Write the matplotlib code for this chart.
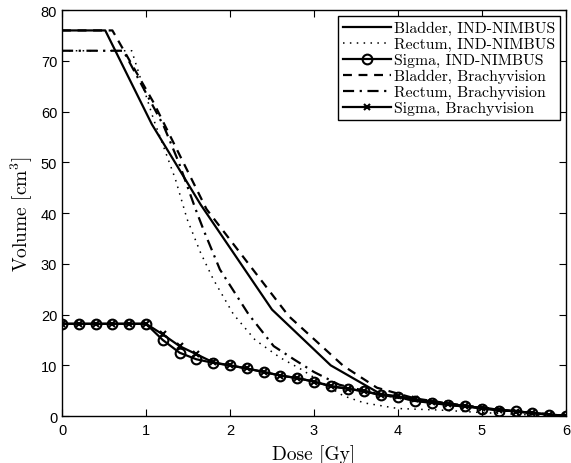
import matplotlib
matplotlib.use("Agg")
import matplotlib.pyplot as plt
import numpy as np

plt.rcParams['mathtext.fontset'] = 'cm'
plt.rcParams['font.family'] = ['Liberation Sans', 'DejaVu Sans']

# Bladder, IND-NIMBUS
bladder_ind_x = [0, 0.515, 1.07, 1.65, 2.5, 3.2, 3.79, 4.2, 4.6, 5.0, 5.5, 6.0]
bladder_ind_y = [76, 76, 57.5, 41.7, 21, 10, 4.4, 3.3, 2.4, 1.6, 0.8, 0.0]

# Rectum, IND-NIMBUS
rectum_ind_x = [0, 0.83, 1.09, 1.35, 1.49, 1.65, 1.8, 2.04, 2.3, 2.6, 2.84, 3.07, 3.35, 3.6, 4.0, 4.5, 5.0, 5.5, 6.0]
rectum_ind_y = [72, 72, 58.5, 46.7, 38.8, 32.2, 27, 20.1, 15, 11.5, 9.3, 6.9, 4.0, 2.6, 1.5, 1.2, 0.7, 0.3, 0.0]

# Sigma (both)
sigma_x = [0, 0.2, 0.4, 0.6, 0.8, 1.0, 1.2, 1.4, 1.6, 1.8, 2.0, 2.2, 2.4, 2.6, 2.8, 3.0,
           3.2, 3.4, 3.6, 3.8, 4.0, 4.2, 4.4, 4.6, 4.8, 5.0, 5.2, 5.4, 5.6, 5.8, 6.0]
sigma_ind_y = [18.2, 18.2, 18.2, 18.2, 18.2, 18.2, 15.0, 12.5, 11.2, 10.5, 10.0, 9.4, 8.7, 8.0, 7.5, 6.8,
               5.9, 5.4, 4.9, 4.1, 3.8, 3.0, 2.6, 2.2, 1.9, 1.5, 1.1, 1.0, 0.6, 0.3, 0.1]
sigma_bv_y = [18.2, 18.2, 18.2, 18.2, 18.2, 18.2, 16.1, 13.8, 12.2, 10.6, 10.0, 9.4, 8.7, 8.0, 7.5, 6.8,
              5.9, 5.4, 4.9, 4.2, 3.9, 3.3, 2.8, 2.4, 2.0, 1.6, 1.3, 0.9, 0.6, 0.3, 0.1]

# Bladder, Brachyvision
bladder_bv_x = [0, 0.6, 1.09, 1.72, 2.7, 3.35, 3.75, 4.2, 4.6, 5.0, 5.5, 6.0]
bladder_bv_y = [76, 76, 61.8, 40.8, 19.7, 9.9, 5.6, 3.5, 2.5, 1.7, 0.9, 0.0]

# Rectum, Brachyvision
rectum_bv_x = [0, 0.73, 1.21, 1.39, 1.59, 1.69, 1.88, 2.22, 2.52, 2.76, 3.0, 3.3, 3.6, 4.0, 4.5, 5.0, 5.5, 6.0]
rectum_bv_y = [72, 72, 57.2, 50, 40.8, 36.5, 28.9, 20.1, 13.8, 11.2, 8.7, 6.2, 5.0, 3.6, 2.4, 1.5, 0.8, 0.0]

labels = ['Bladder, IND-NIMBUS', 'Rectum, IND-NIMBUS', 'Sigma, IND-NIMBUS',
          'Bladder, Brachyvision', 'Rectum, Brachyvision', 'Sigma, Brachyvision']

fig = plt.figure(figsize=(5.71, 4.64), dpi=100)
ax = fig.add_axes([0.1086, 0.101, 0.8825, 0.875])

lw = 1.6
ax.plot(bladder_ind_x, bladder_ind_y, '-', color='k', lw=lw, label=labels[0])
ax.plot(rectum_ind_x, rectum_ind_y, color='k', lw=1.1, linestyle=(0, (1, 3.5)), label=labels[1])
ax.plot(sigma_x, sigma_ind_y, '-', color='k', lw=lw, marker='o', markersize=7,
        markerfacecolor='none', markeredgewidth=1.5, label=labels[2])
ax.plot(bladder_bv_x, bladder_bv_y, color='k', lw=lw, linestyle=(0, (4, 3)), label=labels[3])
ax.plot(rectum_bv_x, rectum_bv_y, color='k', lw=lw, linestyle=(0, (5, 2.5, 1, 2.5)), label=labels[4])
ax.plot(sigma_x, sigma_bv_y, '-', color='k', lw=lw, marker='x', markersize=5,
        markeredgewidth=1.5, label=labels[5])

ax.set_xlim(0, 6)
ax.set_ylim(0, 80)
ax.set_xticks([0, 1, 2, 3, 4, 5, 6])
ax.set_yticks([0, 10, 20, 30, 40, 50, 60, 70, 80])
ax.tick_params(direction='in', top=True, right=True, length=5, width=0.8, labelsize=10.5)
ax.tick_params(axis='x', pad=5)
for s in ax.spines.values():
    s.set_linewidth(1.0)

ax.set_xlabel('Dose [Gy]', family='cmr10', fontsize=14, labelpad=5)
ax.set_ylabel(r'Volume [cm$^3$]', family='cmr10', fontsize=14, labelpad=4)

leg = ax.legend(loc='upper right', prop={'family': 'cmr10', 'size': 11.3},
                frameon=True, fancybox=False, edgecolor='k', framealpha=1,
                borderpad=0.3, labelspacing=0.12, handlelength=3.1, handletextpad=0.15,
                borderaxespad=0.4)
leg.get_frame().set_linewidth(1.0)

fig.savefig('out.png', dpi=100)
